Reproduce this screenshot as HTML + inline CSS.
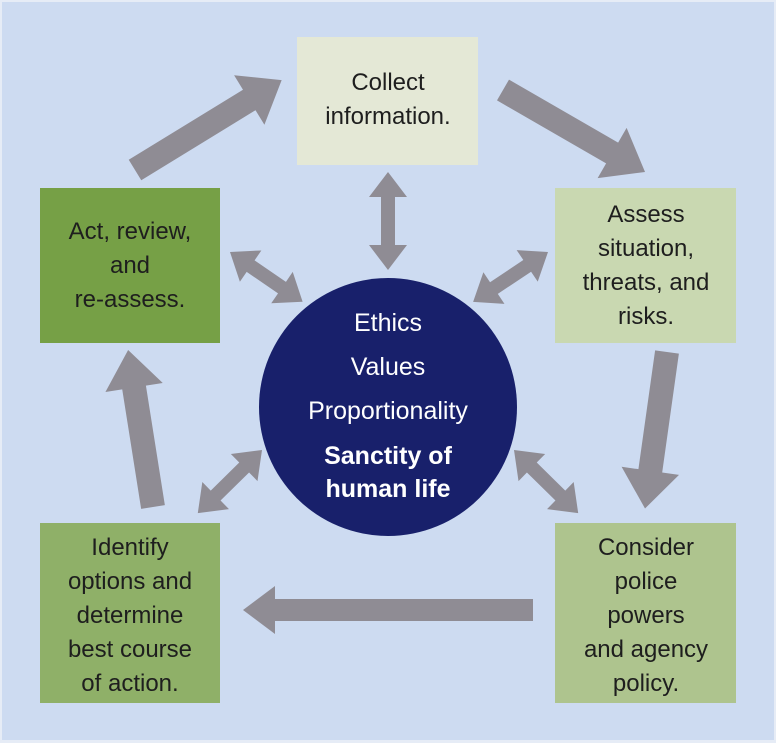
<!DOCTYPE html>
<html><head><meta charset="utf-8"><style>
html,body{margin:0;padding:0;background:#fff}
svg{display:block}
text{font-family:"Liberation Sans",sans-serif;font-size:24px;fill:#1e1e1e;text-anchor:middle}
.w{fill:#fff;font-size:25px}
.b{font-weight:bold}
</style></head><body>
<svg width="776" height="743" viewBox="0 0 776 743">
<rect x="0" y="0" width="776" height="743" fill="#e6ecf6"/>
<rect x="2" y="2" width="772" height="738" fill="#cddbf1"/>
<g fill="#8f8c94">
<g transform="translate(135,170) rotate(-31.5)"><polygon points="0,-12 134,-12 134,-29 172,0 134,29 134,12 0,12"/></g>
<g transform="translate(503,90) rotate(30)"><polygon points="0,-12 126,-12 126,-29 164,0 126,29 126,12 0,12"/></g>
<g transform="translate(667,352) rotate(98)"><polygon points="0,-12 120,-12 120,-29 158,0 120,29 120,12 0,12"/></g>
<g transform="translate(533,610) rotate(180)"><polygon points="0,-11 258,-11 258,-24 290,0 258,24 258,11 0,11"/></g>
<g transform="translate(153,507) rotate(-99)"><polygon points="0,-12 121,-12 121,-29 159,0 121,29 121,12 0,12"/></g>
<g transform="translate(388,172) rotate(90)"><polygon points="25,-7 73,-7 73,-19 98,0 73,19 73,7 25,7 25,19 0,0 25,-19"/></g>
<g transform="translate(230,252) rotate(34.4)"><polygon points="25,-7 63,-7 63,-19 88,0 63,19 63,7 25,7 25,19 0,0 25,-19"/></g>
<g transform="translate(548,252) rotate(146.3)"><polygon points="25,-7 65,-7 65,-19 90,0 65,19 65,7 25,7 25,19 0,0 25,-19"/></g>
<g transform="translate(262,450) rotate(135.5)"><polygon points="25,-7 65,-7 65,-19 90,0 65,19 65,7 25,7 25,19 0,0 25,-19"/></g>
<g transform="translate(514,450) rotate(44.5)"><polygon points="25,-7 65,-7 65,-19 90,0 65,19 65,7 25,7 25,19 0,0 25,-19"/></g>
</g>
<rect x="297" y="37" width="181" height="128" fill="#e4e8d6"/>
<rect x="40" y="188" width="180" height="155" fill="#76a046"/>
<rect x="555" y="188" width="181" height="155" fill="#c9d8b1"/>
<rect x="40" y="523" width="180" height="180" fill="#8fb068"/>
<rect x="555" y="523" width="181" height="180" fill="#aec48e"/>
<ellipse cx="388" cy="407" rx="129" ry="129" fill="#18206b"/>
<text x="388" y="90">Collect</text>
<text x="388" y="124">information.</text>
<text x="130" y="239">Act, review,</text>
<text x="130" y="273">and</text>
<text x="130" y="307">re-assess.</text>
<text x="646" y="222">Assess</text>
<text x="646" y="256">situation,</text>
<text x="646" y="290">threats, and</text>
<text x="646" y="324">risks.</text>
<text x="130" y="555">Identify</text>
<text x="130" y="589">options and</text>
<text x="130" y="623">determine</text>
<text x="130" y="657">best course</text>
<text x="130" y="691">of action.</text>
<text x="646" y="555">Consider</text>
<text x="646" y="589">police</text>
<text x="646" y="623">powers</text>
<text x="646" y="657">and agency</text>
<text x="646" y="691">policy.</text>
<text class="w" x="388" y="331">Ethics</text>
<text class="w" x="388" y="375">Values</text>
<text class="w" x="388" y="419">Proportionality</text>
<text class="w b" x="388" y="464">Sanctity of</text>
<text class="w b" x="388" y="497">human life</text>
</svg>
</body></html>
